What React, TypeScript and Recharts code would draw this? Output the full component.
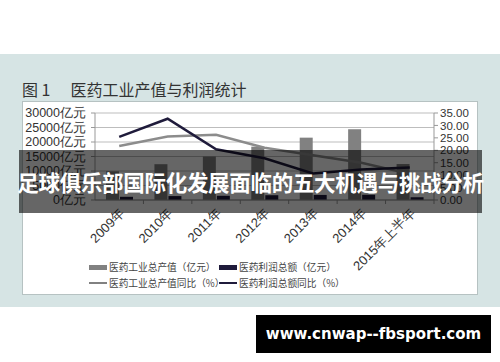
import React from 'react';
import { ComposedChart, Bar, Line, XAxis, YAxis, CartesianGrid } from 'recharts';

const years = ['2009年', '2010年', '2011年', '2012年', '2013年', '2014年', '2015年上半年'];
const outputValue = [9900, 12350, 15000, 18400, 21500, 24400, 12400];
const profitValue = [1100, 1350, 1450, 1650, 1750, 1800, 950];
const outputGrowth = [21.7, 25.5, 26.2, 21.0, 18.0, 15.0, 10.5];
const profitGrowth = [25.4, 32.7, 20.4, 16.8, 10.7, 12.3, 13.1];

const leftTicks = [0, 5000, 10000, 15000, 20000, 25000, 30000];
const rightTicks = [0, 5, 10, 15, 20, 25, 30, 35];

const data = years.map((name, i) => ({
  name,
  output: outputValue[i],
  profit: profitValue[i],
  outputYoy: outputGrowth[i],
  profitYoy: profitGrowth[i],
}));

const W = 500;
const H = 362;
const PLOT_LEFT = 95;
const PLOT_RIGHT = 434;
const STEP = (PLOT_RIGHT - PLOT_LEFT) / years.length;

const GRAY = '#818181';
const NAVY = '#1f1b3b';
const FONT = '"Liberation Sans", Arial, sans-serif';
const CJK = '"Noto Sans CJK SC", "Noto Sans", sans-serif';

const YearTick = (props: any) => {
  const { x, y, payload } = props;
  const bx = x + STEP / 2;
  return (
    <g>
      <line x1={bx} x2={bx} y1={y} y2={y + 4} stroke="#999" />
      <text
        transform={`translate(${x + 6},${y + 14}) rotate(-45)`}
        textAnchor="end"
        fontSize={13}
        fontFamily={FONT}
        fill="#333"
      >
        {payload.value}
      </text>
    </g>
  );
};

const legendItems = [
  { label: '医药工业总产值（亿元）', color: GRAY, kind: 'bar' },
  { label: '医药利润总额（亿元）', color: NAVY, kind: 'bar' },
  { label: '医药工业总产值同比（%）', color: GRAY, kind: 'line' },
  { label: '医药利润总额同比（%）', color: NAVY, kind: 'line' },
];

export default function App() {
  return (
    <div style={{ position: 'absolute', left: 0, top: 0, width: W, height: H, background: '#fff', overflow: 'hidden' }}>
      {/* tinted band behind the figure */}
      <div style={{ position: 'absolute', left: 0, top: 54, width: W, height: 253, background: '#d6e4e4' }} />
      <div
        style={{
          position: 'absolute',
          left: 22,
          top: 80,
          fontFamily: CJK,
          fontSize: 16,
          color: '#333',
          whiteSpace: 'nowrap',
          lineHeight: '18px',
        }}
      >
        图 1<span style={{ display: 'inline-block', width: 20 }} />医药工业产值与利润统计
      </div>
      <div
        style={{
          position: 'absolute',
          left: 22,
          top: 101,
          width: 454,
          height: 192,
          background: '#fff',
          border: '1px solid #b6c2c2',
        }}
      />
      <div style={{ position: 'absolute', left: 0, top: 0 }}>
        <ComposedChart
          width={W}
          height={H}
          data={data}
          margin={{ top: 113, right: 20, bottom: 102, left: 25 }}
          barSize={13}
          barGap={1}
        >
          <CartesianGrid vertical={false} stroke="#bdbdbd" yAxisId="left" />
          <XAxis
            dataKey="name"
            axisLine={{ stroke: '#999' }}
            tickLine={false}
            tickSize={0}
            tickMargin={0}
            interval={0}
            height={60}
            tick={<YearTick />}
          />
          <YAxis
            yAxisId="left"
            width={70}
            domain={[0, 30000]}
            ticks={leftTicks}
            interval={0}
            tickFormatter={(v) => `${v}亿元`}
            axisLine={{ stroke: '#999' }}
            tickLine={{ stroke: '#999' }}
            tickSize={4}
            tickMargin={5}
            tick={{ fill: '#333', fontSize: 12.5, fontFamily: FONT }}
          />
          <YAxis
            yAxisId="right"
            orientation="right"
            width={46}
            domain={[0, 35]}
            ticks={rightTicks}
            interval={0}
            tickFormatter={(v) => v.toFixed(2)}
            axisLine={{ stroke: '#999' }}
            tickLine={{ stroke: '#999' }}
            tickSize={4}
            tickMargin={2}
            tick={{ fill: '#333', fontSize: 11.5, fontFamily: FONT }}
          />
          <Bar yAxisId="left" dataKey="output" fill={GRAY} isAnimationActive={false} />
          <Bar yAxisId="left" dataKey="profit" fill={NAVY} isAnimationActive={false} />
          <Line
            yAxisId="right"
            dataKey="outputYoy"
            type="linear"
            stroke="#8c8c8c"
            strokeWidth={2.5}
            dot={false}
            isAnimationActive={false}
          />
          <Line
            yAxisId="right"
            dataKey="profitYoy"
            type="linear"
            stroke={NAVY}
            strokeWidth={2.5}
            dot={false}
            isAnimationActive={false}
          />
        </ComposedChart>
      </div>
      {/* legend, two rows */}
      {legendItems.map((item, i) => {
        const col = i % 2;
        const row = Math.floor(i / 2);
        return (
          <div
            key={item.label}
            style={{
              position: 'absolute',
              left: col === 0 ? 89 : 219,
              top: 260 + row * 16,
              height: 14,
              display: 'flex',
              alignItems: 'center',
              fontFamily: CJK,
              fontSize: 9.7,
              color: '#444',
              whiteSpace: 'nowrap',
            }}
          >
            <span
              style={{
                display: 'inline-block',
                width: 18,
                height: item.kind === 'bar' ? 5 : 2,
                background: item.color,
                marginRight: 2,
              }}
            />
            {item.label}
          </div>
        );
      })}
      {/* caption banner */}
      <div
        style={{
          position: 'absolute',
          left: 19,
          top: 150,
          width: 463,
          height: 63,
          background: 'rgba(0,0,0,0.6)',
          display: 'flex',
          alignItems: 'center',
          justifyContent: 'center',
          color: '#fff',
          fontFamily: CJK,
          fontWeight: 700,
          fontSize: 21.5,
          letterSpacing: -0.3,
          whiteSpace: 'nowrap',
        }}
      >
        足球俱乐部国际化发展面临的五大机遇与挑战分析
      </div>
      <div
        style={{
          position: 'absolute',
          left: 256,
          top: 315,
          width: 235,
          height: 38,
          background: '#000',
          display: 'flex',
          alignItems: 'center',
          justifyContent: 'center',
          color: '#fff',
          fontFamily: '"DejaVu Sans", sans-serif',
          fontWeight: 700,
          fontSize: 15,
          whiteSpace: 'nowrap',
        }}
      >
        www.cnwap--fbsport.com
      </div>
    </div>
  );
}
